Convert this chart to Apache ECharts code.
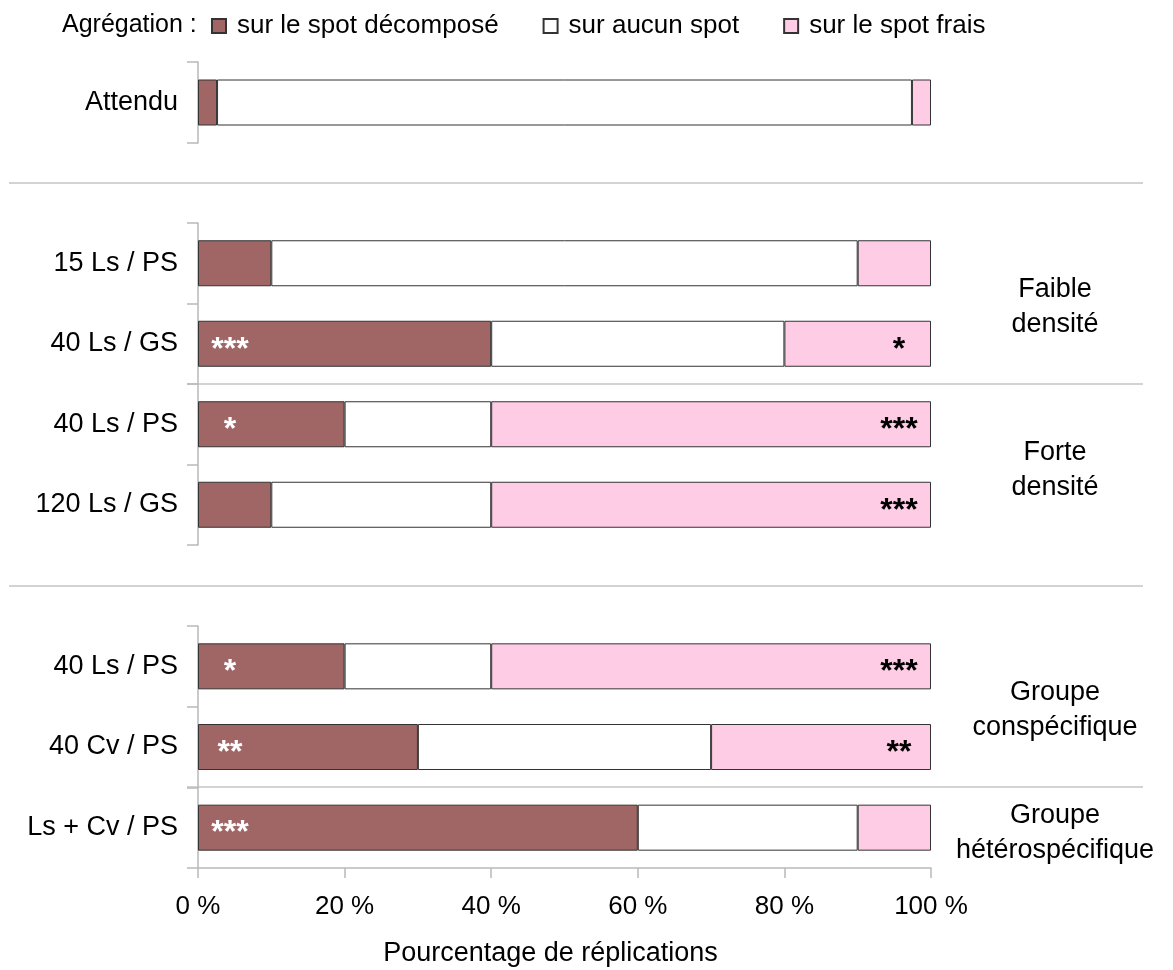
<!DOCTYPE html>
<html>
<head>
<meta charset="utf-8">
<script src="https://cdn.jsdelivr.net/npm/echarts@6/dist/echarts.min.js"></script>
<style>
    * { margin: 0; padding: 0; }
    body { background: #fff; }
    #chart { width: 1173px; height: 970px; }
</style>
</head>
<body>
<div id="chart"></div>
<script>
    // catégories, par bloc
    const catAttendu = ['Attendu'];
    const catDensite = ['15 Ls / PS', '40 Ls / GS', '40 Ls / PS', '120 Ls / GS'];
    const catGroupe = ['40 Ls / PS', '40 Cv / PS', 'Ls + Cv / PS'];

    // pourcentages (même ordre que les catégories ci-dessus, mises bout à bout)
    const decompose = [2.6, 10, 40, 20, 10, 20, 30, 60];
    const aucun = [94.8, 80, 40, 20, 30, 20, 40, 30];
    const frais = [2.6, 10, 20, 60, 60, 60, 30, 10];

    // étoiles de significativité
    const etoilesDecompose = ['', '', '***', '*', '', '*', '**', '***'];
    const etoilesFrais = ['', '', '*', '***', '***', '***', '**', ''];

    const xTicks = [0, 20, 40, 60, 80, 100];
    const groupLabels = ['Faible\ndensité', 'Forte\ndensité', 'Groupe\nconspécifique', 'Groupe\nhétérospécifique'];

    const names = ['sur le spot décomposé', 'sur aucun spot', 'sur le spot frais'];
    const colors = ['#a06666', '#ffffff', '#ffcce6'];
    const font = '"Liberation Sans", Arial, sans-serif';
    const gris = '#b9b9b9';

    const blocks = [catAttendu, catDensite, catGroupe];
    const grids = [
        {left: 198, right: 242, top: 62, height: 81},
        {left: 198, right: 242, top: 223, height: 322},
        {left: 198, right: 242, top: 626, height: 242}
    ];

    let xAxes = [], yAxes = [], series = [];
    let start = 0;
    blocks.forEach((cats, g) => {
        const last = g === blocks.length - 1;
        xAxes.push({
            gridIndex: g, type: 'value', min: xTicks[0], max: xTicks[xTicks.length - 1], interval: 20,
            show: last,
            axisLine: {show: true, lineStyle: {color: gris, width: 1.5}},
            axisTick: {show: true, length: 10, lineStyle: {color: gris, width: 1.5}},
            splitLine: {show: false},
            axisLabel: {formatter: '{value} %', fontSize: 26, color: '#000', fontFamily: font, margin: 26},
            name: last ? 'Pourcentage de réplications' : '',
            nameLocation: 'middle', nameGap: 72,
            nameTextStyle: {fontSize: 27, color: '#000', fontFamily: font, padding: [0, 28, 0, 0]}
        });
        yAxes.push({
            gridIndex: g, type: 'category', inverse: true, data: cats,
            axisLine: {show: true, lineStyle: {color: gris, width: 1.5}},
            axisTick: {show: true, length: 11, lineStyle: {color: gris, width: 1.5}},
            axisLabel: {fontSize: 27, color: '#000', fontFamily: font, margin: 20}
        });
        const sl = (arr) => arr.slice(start, start + cats.length);
        const d = sl(decompose), a = sl(aucun), f = sl(frais);
        const ed = sl(etoilesDecompose), ef = sl(etoilesFrais);
        const mk = (vals, i, stars, pos, offset, col) => ({
            name: names[i], type: 'bar', stack: 'b' + g, barWidth: 46,
            xAxisIndex: g, yAxisIndex: g,
            itemStyle: {color: colors[i], borderColor: '#333', borderWidth: 1},
            emphasis: {disabled: true},
            data: vals.map((v, k) => ({
                value: v,
                label: stars ? {
                    show: stars[k] !== '', formatter: stars[k], position: pos, offset: offset,
                    align: 'center', verticalAlign: 'middle',
                    fontSize: 32, fontWeight: 'bold', color: col, fontFamily: font
                } : {show: false}
            }))
        });
        series.push(mk(d, 0, ed, [32, '50%'], [0, 6], '#fff'));
        series.push(mk(a, 1, null));
        series.push(mk(f, 2, ef, ['100%', '50%'], [-32, 6], '#000'));
        start += cats.length;
    });

    // lignes de séparation et étiquettes des groupes
    const ligne = (x1, x2, y) => ({
        type: 'line', shape: {x1: x1, y1: y, x2: x2, y2: y},
        style: {stroke: '#c4c4c4', lineWidth: 1.5}, silent: true
    });
    const etiquette = (txt, y) => ({
        type: 'text', x: 1055, y: y,
        style: {text: txt, fill: '#000', font: '27px ' + font, align: 'center', verticalAlign: 'middle', lineHeight: 35}
    });

    const option = {
        backgroundColor: '#fff',
        animation: false,
        grid: grids,
        xAxis: xAxes,
        yAxis: yAxes,
        legend: {
            data: names, left: 206, top: 8,
            icon: 'rect', itemWidth: 14, itemHeight: 14, itemGap: 44,
            textStyle: {fontSize: 26, color: '#000', fontFamily: font, padding: [0, 0, 0, 6]}
        },
        graphic: [
            {type: 'text', x: 62, y: 25, style: {text: 'Agrégation :', fill: '#000', font: '25px ' + font, verticalAlign: 'middle'}},
            ligne(9, 1143, 183),
            ligne(9, 1143, 586),
            ligne(187, 1143, 384),
            ligne(187, 1143, 787),
            etiquette(groupLabels[0], 307),
            etiquette(groupLabels[1], 470),
            etiquette(groupLabels[2], 710),
            etiquette(groupLabels[3], 833)
        ],
        series: series
    };

    let myChart = echarts.init(document.getElementById('chart'));
    myChart.setOption(option);
</script>
</body>
</html>
